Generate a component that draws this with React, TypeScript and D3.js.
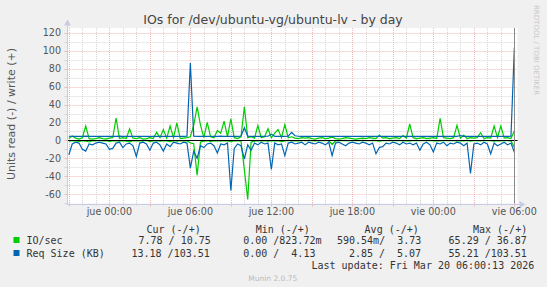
import React from "react";
import * as d3 from "d3";

const W = 547;
const H = 287;

const title = "IOs for /dev/ubuntu-vg/ubuntu-lv - by day";
const yAxisLabel = "Units read (-) / write (+)";
const yTicks = [-60, -40, -20, 0, 20, 40, 60, 80, 100, 120];
const xTickLabels = ["jue 00:00", "jue 06:00", "jue 12:00", "jue 18:00", "vie 00:00", "vie 06:00"];
const xTickTimes = [
  new Date(2026, 2, 19, 0, 0),
  new Date(2026, 2, 19, 6, 0),
  new Date(2026, 2, 19, 12, 0),
  new Date(2026, 2, 19, 18, 0),
  new Date(2026, 2, 20, 0, 0),
  new Date(2026, 2, 20, 6, 0),
];
const seriesNames = ["IO/sec", "Req Size (KB)"];
const seriesColors = ["#00CC00", "#0066B3"];
const legendHeaders = ["Cur (-/+)", "Min (-/+)", "Avg (-/+)", "Max (-/+)"];
const ioStats = ["7.78 / 10.75", "0.00 /823.72m", "590.54m/  3.73", "65.29 / 36.87"];
const reqStats = ["13.18 /103.51", "0.00 /  4.13", "2.85 /  5.07", "55.21 /103.51"];
const lastUpdate = "Last update: Fri Mar 20 06:00:13 2026";
const footer = "Munin 2.0.75";
const watermark = "RRDTOOL / TOBI OETIKER";

// samples every 15 minutes from Wed 21:00 to Fri 06:00
const sampleStart = new Date(2026, 2, 18, 21, 0);
const stepMinutes = 15;

const writeIO = [
  2, 5, 2.5, 1.5, 3, 16, 2, 1.5, 2, 3,
  2, 1.5, 2.5, 3, 25, 2, 3, 2, 13, 2.5,
  2, 3, 1.5, 2, 3, 2, 9, 3, 12, 2.5,
  16, 3, 19.5, 2, 2.5, 3, 4, 17, 37.5, 17,
  3, 20, 4, 3, 11, 8, 21.5, 4, 24, 3,
  2, 4, 37.5, 3, 4, 2.5, 16.5, 3, 4, 13,
  3, 8, 12, 3, 17.5, 3, 4, 2.5, 2, 3,
  2.5, 3, 2, 1.5, 2.5, 3, 2, 2.5, 3.5, 2,
  1.5, 2, 3, 2.5, 2, 1.5, 2, 2.5, 2, 3,
  2.5, 2, 6, 2.5, 3, 2, 2.5, 3, 2, 5.5,
  2.5, 18.3, 3, 2, 2.5, 3, 2, 2.5, 3, 2,
  24.6, 3, 2.5, 2, 3, 16.8, 2.5, 6, 2, 3,
  2.5, 3, 8.5, 2, 3, 2.5, 16, 3, 16, 2.5,
  3, 2, 10.75,
];

const readIO = [
  0.8, 0.3, 0.6, 1.2, 0.2, 0.9, 1.8, 0.4, 0.7, 0.1,
  0.5, 0.3, 1.1, 0.6, 0.2, 0.8, 0.4, 0.9, 1.6, 0.3,
  0.7, 0.2, 0.5, 0.1, 1.3, 0.6, 0.3, 0.8, 0.2, 0.6,
  1.4, 0.3, 0.9, 0.2, 0.5, 0.4, 2.8, 3.8, 39, 1.8,
  0.9, 0.4, 1.2, 0.6, 0.3, 0.8, 0.2, 0.7, 1.5, 0.4,
  0.6, 0.3, 33, 66, 1.9, 0.8, 0.3, 0.6, 0.2, 0.9,
  0.4, 0.7, 0.2, 1.3, 0.5, 0.1, 0.6, 0.3, 0.5, 0.2,
  0.4, 0.1, 0.3, 0.6, 0.2, 0.4, 0.1, 0.3, 4.6, 0.5,
  0.2, 0.3, 0.1, 0.4, 0.2, 0, 0.3, 0.1, 0.2, 0.4,
  0.1, 0.3, 0.8, 0.2, 0.4, 0.1, 0.3, 0, 0.2, 0.5,
  0.3, 0.6, 0.2, 0.1, 0.4, 0.2, 0.3, 0.1, 0.5, 0.2,
  0.7, 0.3, 0.1, 0.4, 0.2, 0.6, 0.3, 0.5, 0.1, 0.9,
  0.3, 0.2, 0.6, 0.1, 0.4, 0.3, 0.8, 0.2, 0.5, 0.3,
  0.4, 0.6, 7.78,
];

const writeReq = [
  4.6, 4.5, 4.4, 4.6, 4.5, 4.7, 4.5, 4.4, 4.5, 4.6,
  4.5, 4.4, 4.6, 4.5, 4.5, 4.7, 4.4, 4.5, 4.6, 4.5,
  4.4, 4.5, 4.6, 4.5, 4.4, 4.5, 4.6, 4.5, 4.5, 4.4,
  4.5, 4.6, 4.5, 4.4, 4.5, 4.6, 86.5, 4.8, 4.5, 4.6,
  4.5, 4.4, 4.6, 4.5, 4.5, 4.7, 4.5, 4.4, 4.6, 4.5,
  4.5, 4.6, 14, 4.8, 4.5, 4.4, 4.6, 4.5, 4.5, 4.6,
  7, 4.5, 4.6, 4.4, 4.5, 4.6, 9, 5.2, 4.6, 4.5,
  4.4, 4.5, 4.6, 4.5, 4.4, 4.5, 4.6, 4.5, 4.5, 4.4,
  4.5, 4.6, 4.5, 4.4, 4.5, 4.6, 4.5, 4.5, 4.4, 4.5,
  4.6, 4.5, 4.4, 4.5, 4.6, 4.5, 4.4, 4.5, 4.6, 4.5,
  4.5, 4.4, 4.6, 4.5, 4.5, 4.4, 4.6, 4.5, 4.5, 4.6,
  4.5, 4.4, 4.5, 4.6, 4.5, 4.4, 5.4, 4.5, 4.6, 4.5,
  4.4, 4.5, 4.6, 4.5, 4.4, 4.5, 4.6, 4.5, 4.5, 4.4,
  4.5, 4.6, 103.51,
];

const readReq = [
  16, 4, 2, 3, 10, 12, 4, 5, 3, 2,
  3, 4, 10, 9, 3, 2, 8, 4, 3, 6,
  18, 3, 2, 4, 11, 3, 2, 5, 12, 4,
  7, 2, 3, 4, 2, 3, 31, 12, 20, 6,
  8, 4, 3, 6, 14, 4, 5, 3, 56, 9,
  4, 6, 21, 5, 11, 3, 5, 2, 4, 3,
  32.5, 3, 5, 4, 17, 3, 2, 4, 3, 2,
  5, 2, 3, 4, 2, 3, 5, 2, 17, 3,
  2, 4, 6, 3, 2, 3, 4, 2, 3, 5,
  3, 15, 8, 7, 3, 4, 2, 3, 5, 2,
  4, 3, 5, 3, 11, 4, 2, 5, 13, 3,
  4, 2, 6, 3, 4, 2, 3, 6, 3, 37,
  4, 3, 5, 2, 4, 15, 3, 6, 4, 2,
  5, 3, 13.18,
];

// layout
const PL = 67.5;
const PR = 517.5;
const PT = 28;
const PB = 203.5;
const headerX = [146.5, 255.7, 364.6, 473];
const row1X = [138.5, 243.2, 337, 448.6];
const row2X = [131.5, 243.2, 348.9, 448.6];
const MAJOR = "#efb9b9";
const MINOR = "#d6d6d6";
const AXIS = "#c9cbe6";

const tDomain: [Date, Date] = [new Date(2026, 2, 18, 20, 54), new Date(2026, 2, 20, 6, 14)];

export default function App() {
  const x = d3.scaleTime().domain(tDomain).range([PL, PR]);
  const y = d3.scaleLinear().domain([-70.5, 125.5]).range([PB, PT]);
  const crisp = (v: number) => Math.round(v) + 0.5;

  const timeAt = (i: number) => new Date(sampleStart.getTime() + i * stepMinutes * 60000);
  const line = d3
    .line<number>()
    .x((_, i) => x(timeAt(i)))
    .y((d) => y(d));
  const neg = (arr: number[]) => arr.map((v) => -v);

  const hours = d3.timeHour.range(new Date(2026, 2, 18, 21, 0), new Date(2026, 2, 20, 6, 1));
  const gridMinorY = d3.range(-50, 125, 20);
  const tickFont = "DejaVu Sans, sans-serif";
  const mono = "DejaVu Sans Mono, monospace";

  return (
    <svg
      width={W}
      height={H}
      style={{ position: "absolute", left: 0, top: 0 }}
      xmlns="http://www.w3.org/2000/svg"
    >
      <rect x={0} y={0} width={W} height={H} fill="#F0F0F0" />
      <rect x={PL} y={PT} width={PR - PL} height={PB - PT} fill="#FFFFFF" />

      {/* minor grid */}
      {hours
        .filter((h) => h.getHours() % 3 !== 0)
        .map((h, i) => (
          <line key={"vm" + i} x1={crisp(x(h))} x2={crisp(x(h))} y1={PT} y2={PB}
            stroke={MINOR} strokeWidth={1} strokeDasharray="1,1" />
        ))}
      {gridMinorY.map((v, i) => (
        <line key={"hm" + i} x1={PL} x2={PR} y1={crisp(y(v))} y2={crisp(y(v))}
          stroke={MINOR} strokeWidth={1} strokeDasharray="1,1" />
      ))}
      {/* major grid */}
      {hours
        .filter((h) => h.getHours() % 3 === 0)
        .map((h, i) => (
          <line key={"vM" + i} x1={crisp(x(h))} x2={crisp(x(h))} y1={PT} y2={PB}
            stroke={MAJOR} strokeWidth={1} strokeDasharray="1,1" />
        ))}
      {yTicks.map((v, i) => (
        <line key={"hM" + i} x1={PL} x2={PR} y1={crisp(y(v))} y2={crisp(y(v))}
          stroke={MAJOR} strokeWidth={1} strokeDasharray="1,1" />
      ))}

      {/* axis ticks */}
      {hours.map((h, i) => (
        <line key={"xt" + i} x1={crisp(x(h))} x2={crisp(x(h))} y1={PB} y2={PB + (h.getHours() % 3 === 0 ? 3 : 2)}
          stroke={h.getHours() % 3 === 0 ? MAJOR : MINOR} strokeWidth={1} />
      ))}
      {d3.range(-70, 125, 10).map((v, i) => (
        <line key={"yt" + i} x1={PL - 3} x2={PL} y1={crisp(y(v))} y2={crisp(y(v))}
          stroke={v % 20 === 0 ? MAJOR : MINOR} strokeWidth={1} />
      ))}

      {/* series */}
      <path d={line(neg(readIO)) || ""} fill="none" stroke={seriesColors[0]} strokeWidth={1.2} />
      <path d={line(writeIO) || ""} fill="none" stroke={seriesColors[0]} strokeWidth={1.2} />
      <path d={line(neg(readReq)) || ""} fill="none" stroke={seriesColors[1]} strokeWidth={1.2} />
      <path d={line(writeReq) || ""} fill="none" stroke={seriesColors[1]} strokeWidth={1.2} />

      {/* zero line */}
      <line x1={PL} x2={PR} y1={crisp(y(0))} y2={crisp(y(0))} stroke="#000" strokeWidth={1} />
      {/* now line */}
      <line x1={crisp(x(xTickTimes[5]))} x2={crisp(x(xTickTimes[5]))} y1={PT} y2={PB} stroke="#8a8a8a" strokeWidth={1} />

      {/* axes */}
      <line x1={PL} x2={PL} y1={PB + 1} y2={23} stroke={AXIS} strokeWidth={1} />
      <path d={`M${PL - 3.5},25.5 L${PL},19.5 L${PL + 3.5},25.5 Z`} fill={AXIS} />
      <line x1={PL - 1} x2={PR + 3} y1={crisp(PB)} y2={crisp(PB)} stroke={AXIS} strokeWidth={1} />
      <path d={`M${PR + 2},${crisp(PB) - 3.5} L${PR + 8},${crisp(PB)} L${PR + 2},${crisp(PB) + 3.5} Z`} fill={AXIS} />

      {/* y tick labels */}
      {yTicks.map((v, i) => (
        <text key={"yl" + i} x={61} y={y(v) + 3.5} textAnchor="end" fontFamily={tickFont} fontSize={9.6} fill="#555">
          {v}
        </text>
      ))}
      {/* x tick labels */}
      {xTickTimes.map((t, i) => (
        <text key={"xl" + i} x={x(t)} y={215} textAnchor="middle" fontFamily={tickFont} fontSize={9.6} fill="#555">
          {xTickLabels[i]}
        </text>
      ))}

      {/* title */}
      <text x={273} y={24} textAnchor="middle" fontFamily={tickFont} fontSize={12.5} fill="#444">
        {title}
      </text>
      {/* y axis label */}
      <text transform="translate(15,114) rotate(-90)" textAnchor="middle" fontFamily={tickFont} fontSize={11} fill="#555">
        {yAxisLabel}
      </text>
      {/* watermark */}
      <text transform="translate(534,5) rotate(90)" fontFamily={tickFont} fontSize={7} fill="#c8c8c8">
        {watermark}
      </text>

      {/* legend */}
      {legendHeaders.map((h, i) => (
        <text key={"lh" + i} x={headerX[i]} y={232.5} fontFamily={mono} fontSize={10} fill="#333" style={{ whiteSpace: "pre" }}>
          {h}
        </text>
      ))}
      <rect x={13.5} y={237} width={6} height={6} fill={seriesColors[0]} />
      <text x={26.5} y={243.5} fontFamily={mono} fontSize={10} fill="#333">{seriesNames[0]}</text>
      {ioStats.map((s, i) => (
        <text key={"s1" + i} x={row1X[i]} y={243.5} fontFamily={mono} fontSize={10} fill="#333" style={{ whiteSpace: "pre" }}>
          {s}
        </text>
      ))}
      <rect x={13.5} y={250} width={6} height={6} fill={seriesColors[1]} />
      <text x={26.5} y={256.5} fontFamily={mono} fontSize={10} fill="#333">{seriesNames[1]}</text>
      {reqStats.map((s, i) => (
        <text key={"s2" + i} x={row2X[i]} y={256.5} fontFamily={mono} fontSize={10} fill="#333" style={{ whiteSpace: "pre" }}>
          {s}
        </text>
      ))}
      <text x={311.5} y={268.8} fontFamily={mono} fontSize={10} fill="#333" style={{ whiteSpace: "pre" }}>
        {lastUpdate}
      </text>
      <text x={272.8} y={281} textAnchor="middle" fontFamily={tickFont} fontSize={7.5} fill="#bbb">
        {footer}
      </text>
    </svg>
  );
}
